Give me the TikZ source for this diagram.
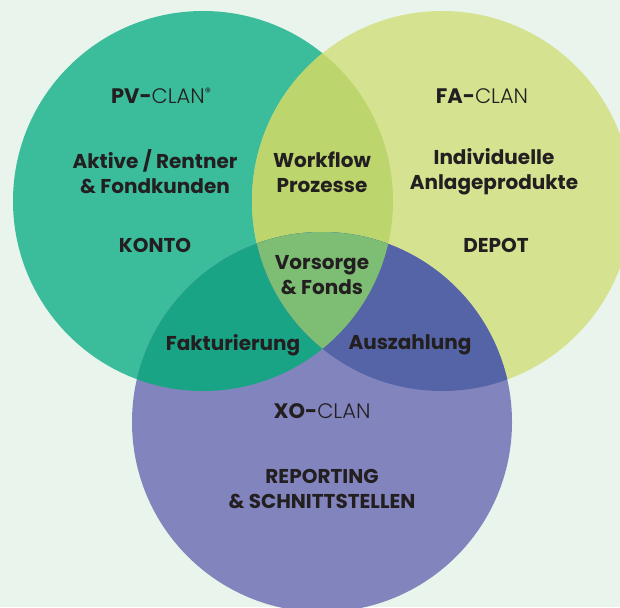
\documentclass[tikz,border=0pt]{standalone}
\usepackage{fontspec}
\setmainfont{Poppins}
\newfontfamily\lightfont{Poppins Light}
\definecolor{bgc}{HTML}{E9F4EC}
\definecolor{cgreen}{HTML}{3BBD9C}
\definecolor{cyellow}{HTML}{D5E290}
\definecolor{cpurple}{HTML}{8284BE}
\definecolor{cgy}{HTML}{BCD56C}
\definecolor{cgp}{HTML}{19A486}
\definecolor{cyp}{HTML}{5464A6}
\definecolor{call}{HTML}{7EBE74}
\definecolor{txt}{HTML}{231F20}
\tikzset{
  lbl/.style={text=txt, font=\fontsize{20}{25}\selectfont\bfseries, align=center, inner sep=0pt},
  clan/.style={text=txt, font=\fontsize{21}{25}\selectfont, inner sep=0pt},
}
\begin{document}
\begin{tikzpicture}[x=1pt,y=-1pt]
\useasboundingbox (0,0) rectangle (620,607);
\fill[bgc] (0,0) rectangle (620,607);
\coordinate (G) at (203,201);
\coordinate (Y) at (442,201);
\coordinate (P) at (322,422);
\fill[cgreen] (G) circle[radius=190pt];
\fill[cyellow] (Y) circle[radius=190pt];
\fill[cpurple] (P) circle[radius=190pt];
\begin{scope}
  \clip (G) circle[radius=190pt];
  \fill[cgy] (Y) circle[radius=190pt];
  \fill[cgp] (P) circle[radius=190pt];
\end{scope}
\begin{scope}
  \clip (Y) circle[radius=190pt];
  \fill[cyp] (P) circle[radius=190pt];
\end{scope}
\begin{scope}
  \clip (G) circle[radius=190pt];
  \clip (Y) circle[radius=190pt];
  \fill[call] (P) circle[radius=190pt];
\end{scope}
% labels
\node[clan] (pv) at (161,96) {\textbf{PV-}{\lightfont CLAN}\raisebox{0.6ex}{\fontsize{12}{12}\selectfont ®}};
\node[lbl] (pvtxt) at (155,172) {Aktive / Rentner\\\& Fondkunden};
\node[lbl] (konto) at (155,245) {KONTO};
\node[clan] (fa) at (482,96) {\textbf{FA-}{\lightfont CLAN}};
\node[lbl] (fatxt) at (494,172) {Individuelle\\Anlageprodukte};
\node[lbl] (depot) at (496,245) {DEPOT};
\node[lbl] (wf) at (322,172) {Workflow\\Prozesse};
\node[lbl] (vf) at (322,275) {Vorsorge\\\& Fonds};
\node[lbl] (fak) at (233,345) {Fakturierung};
\node[lbl] (aus) at (410,345) {Auszahlung};
\node[clan] (xo) at (322,411) {\textbf{XO-}{\lightfont CLAN}};
\node[lbl] (rep) at (322,489) {REPORTING\\\& SCHNITTSTELLEN};
\end{tikzpicture}
\end{document}
